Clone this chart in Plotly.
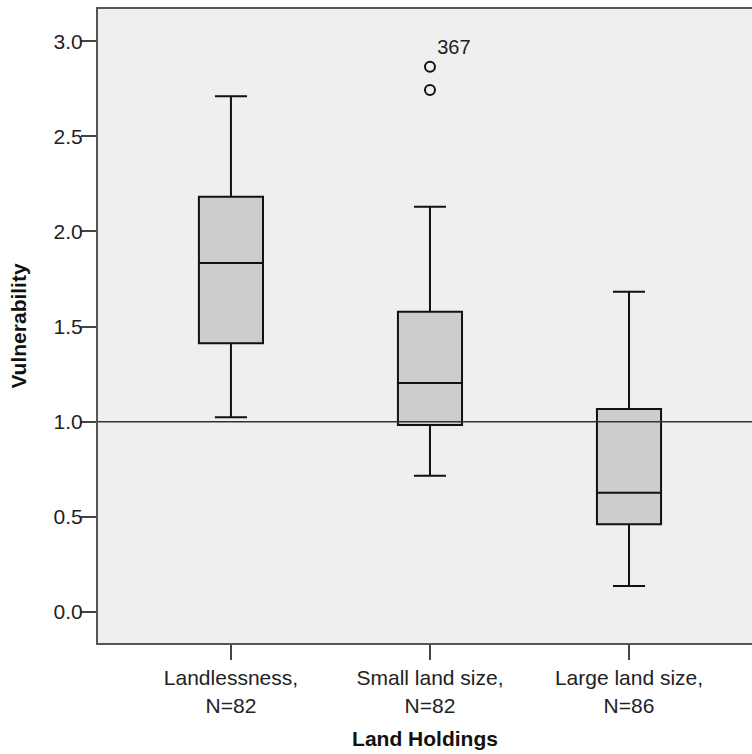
import plotly.graph_objects as go

categories = ["Landlessness,<br>N=82", "Small land size,<br>N=82", "Large land size,<br>N=86"]
lower_whisker = [1.023, 0.716, 0.137]
q1_vals = [1.412, 0.983, 0.461]
median_vals = [1.834, 1.203, 0.627]
q3_vals = [2.182, 1.578, 1.067]
upper_whisker = [2.711, 2.130, 1.683]

outlier_cat = ["Small land size,<br>N=82", "Small land size,<br>N=82"]
outlier_vals = [2.866, 2.743]
outlier_labels = ["367", ""]

y_ticks = [0.0, 0.5, 1.0, 1.5, 2.0, 2.5, 3.0]
ref_value = 1.0

FONT = "Liberation Sans, Arial"

fig = go.Figure()
fig.add_trace(go.Box(
    x=categories,
    q1=q1_vals, median=median_vals, q3=q3_vals,
    lowerfence=lower_whisker, upperfence=upper_whisker,
    fillcolor="#cdcdcd",
    line=dict(color="#111111", width=2),
    width=0.322,
    whiskerwidth=0.5,
    boxpoints=False,
    showlegend=False,
    hoverinfo="skip",
))
fig.add_trace(go.Scatter(
    x=outlier_cat, y=outlier_vals,
    mode="markers+text",
    marker=dict(symbol="circle-open", size=10, color="#111111", line=dict(width=2)),
    text=outlier_labels,
    textposition="top right",
    textfont=dict(family=FONT, size=20, color="#222222"),
    showlegend=False,
    hoverinfo="skip",
))
fig.add_shape(type="line", xref="paper", x0=0, x1=1, yref="y", y0=ref_value, y1=ref_value,
              line=dict(color="#333333", width=1.5), layer="above")

fig.update_layout(
    width=752, height=754,
    margin=dict(l=98, r=0, t=9, b=111),
    paper_bgcolor="white",
    plot_bgcolor="#efefef",
    font=dict(family=FONT, size=20, color="#222222"),
    xaxis=dict(
        type="category",
        range=[-0.668, 2.618],
        showline=True, linecolor="#555555", linewidth=2, mirror=True,
        ticks="outside", ticklen=15, tickcolor="#444444", tickwidth=1.5,
        tickfont=dict(size=21),
        showgrid=False, zeroline=False,
        title=dict(text="<b>Land Holdings</b>", font=dict(size=21, color="#111111"), standoff=16),
    ),
    yaxis=dict(
        range=[-0.163, 3.169],
        tickvals=y_ticks, ticktext=[f"{v:.1f}" for v in y_ticks],
        tickfont=dict(size=21),
        ticklabelstandoff=-6,
        showline=True, linecolor="#555555", linewidth=2,
        ticks="outside", ticklen=15, tickcolor="#444444", tickwidth=1.5,
        showgrid=False, zeroline=False,
        title=dict(text="<b>Vulnerability</b>", font=dict(size=21, color="#111111"), standoff=21),
    ),
)

fig.write_html("out.html")
